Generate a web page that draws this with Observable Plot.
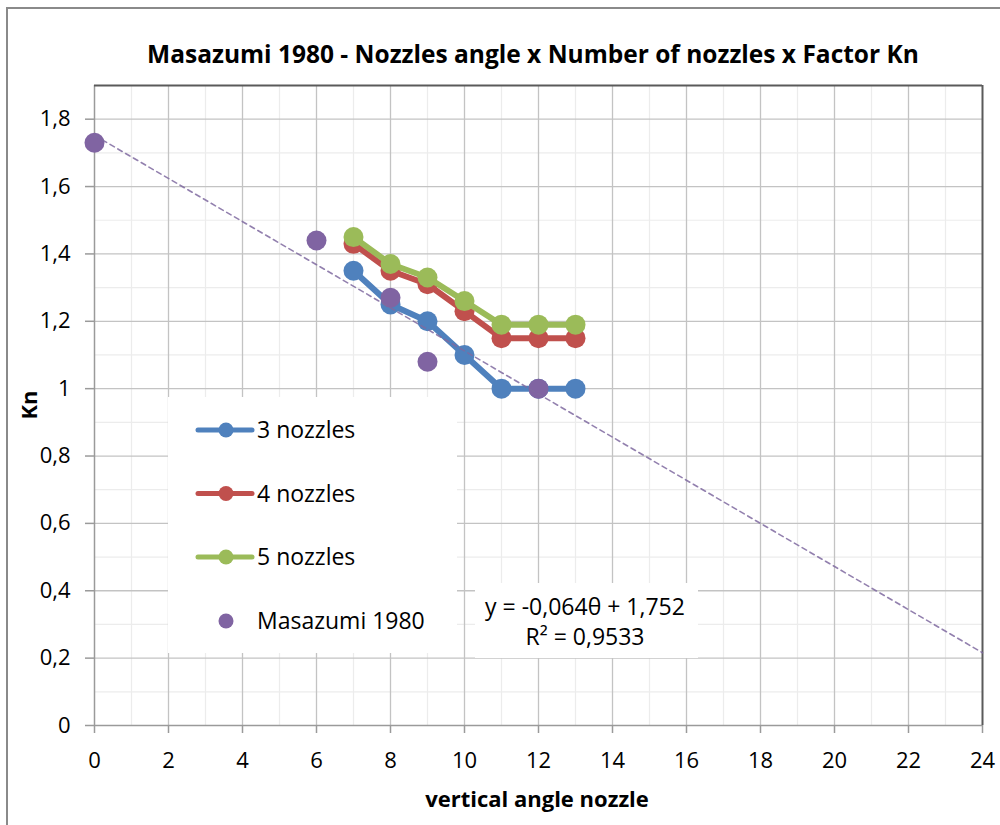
<!DOCTYPE html>
<html>
<head>
<meta charset="utf-8">
<script src="https://cdn.jsdelivr.net/npm/d3@7"></script>
<script src="https://cdn.jsdelivr.net/npm/@observablehq/plot@0.6"></script>
<style>
  html, body { margin: 0; padding: 0; background: #fff; }
  #wrap { position: relative; width: 1000px; height: 825px; overflow: hidden; font-family: "Open Sans", sans-serif; }
  #frame { position: absolute; left: 6px; top: 7px; width: 1010px; height: 830px; border: 2px solid #8a8a8a; box-sizing: border-box; pointer-events: none; }
  .box { position: absolute; background: #fff; }
  svg.overlay { position: absolute; left: 0; top: 0; }
</style>
</head>
<body>
<div id="wrap"></div>
<script>
// ---- data ----
const angles = [7, 8, 9, 10, 11, 12, 13];
const kn3 = [1.35, 1.25, 1.20, 1.10, 1.00, 1.00, 1.00];
const kn4 = [1.43, 1.35, 1.31, 1.23, 1.15, 1.15, 1.15];
const kn5 = [1.45, 1.37, 1.33, 1.26, 1.19, 1.19, 1.19];
const masaAngle = [0, 6, 8, 9, 12];
const masaKn = [1.73, 1.44, 1.27, 1.08, 1.00];
const trendSlope = -0.064;
const trendIntercept = 1.752;
const trendRange = [0, 24];
const seriesNames = ["3 nozzles", "4 nozzles", "5 nozzles", "Masazumi 1980"];
const seriesColors = ["#4F81BD", "#C0504D", "#9BBB59", "#8064A2"];
const xTicks = [0, 2, 4, 6, 8, 10, 12, 14, 16, 18, 20, 22, 24];
const xMinor = [1, 3, 5, 7, 9, 11, 13, 15, 17, 19, 21, 23];
const yTicks = [0, 0.2, 0.4, 0.6, 0.8, 1.0, 1.2, 1.4, 1.6, 1.8];
const yMinor = [0.1, 0.3, 0.5, 0.7, 0.9, 1.1, 1.3, 1.5, 1.7];
const xDomain = [0, 24];
const yDomain = [0, 1.9];
const titleText = "Masazumi 1980 - Nozzles angle x Number of nozzles x Factor Kn";
const xLabel = "vertical angle nozzle";
const yLabel = "Kn";
const eqLine1 = "y = -0,064θ + 1,752";
const eqLine2 = "R² = 0,9533";

const toRows = (xs, ys) => xs.map((x, i) => ({x, y: ys[i]}));
const s3 = toRows(angles, kn3);
const s4 = toRows(angles, kn4);
const s5 = toRows(angles, kn5);
const sm = toRows(masaAngle, masaKn);
const trend = trendRange.map(x => ({x, y: trendSlope * x + trendIntercept}));
const fmt = d => String(+d.toFixed(1)).replace(".", ",");

const chart = Plot.plot({
  width: 1000,
  height: 825,
  marginLeft: 94,
  marginRight: 18,
  marginTop: 85,
  marginBottom: 100,
  style: {fontFamily: "Open Sans, sans-serif", fontSize: "22px", background: "transparent", color: "#000"},
  x: {domain: xDomain, label: null},
  y: {domain: yDomain, label: null},
  marks: [
    Plot.ruleX(xMinor, {stroke: "#ececec", strokeWidth: 1.2}),
    Plot.ruleY(yMinor, {stroke: "#ececec", strokeWidth: 1.2}),
    Plot.ruleX(xTicks.filter(d => d > 0 && d < 24), {stroke: "#c3c3c3", strokeWidth: 1.3}),
    Plot.ruleY(yTicks.filter(d => d > 0), {stroke: "#c3c3c3", strokeWidth: 1.3}),
    Plot.ruleX([xDomain[0]], {stroke: "#9a9a9a", strokeWidth: 1.5}),
    Plot.ruleY([yDomain[0]], {stroke: "#9a9a9a", strokeWidth: 1.5}),
    Plot.ruleX([xDomain[1]], {stroke: "#5a5a5a", strokeWidth: 2}),
    Plot.ruleY([yDomain[1]], {stroke: "#5a5a5a", strokeWidth: 2}),
    Plot.axisX({ticks: xTicks, tickSize: 8, tickPadding: 19, tickFormat: d => String(d), stroke: "#9a9a9a", fill: "#000", strokeWidth: 1.5, label: null}),
    Plot.axisY({ticks: yTicks, tickSize: 9, tickPadding: 15, tickFormat: fmt, stroke: "#9a9a9a", fill: "#000", strokeWidth: 1.5, label: null}),
    Plot.line(s3, {x: "x", y: "y", stroke: seriesColors[0], strokeWidth: 6}),
    Plot.dot(s3, {x: "x", y: "y", r: 10, fill: seriesColors[0]}),
    Plot.line(s4, {x: "x", y: "y", stroke: seriesColors[1], strokeWidth: 6}),
    Plot.dot(s4, {x: "x", y: "y", r: 10, fill: seriesColors[1]}),
    Plot.line(s5, {x: "x", y: "y", stroke: seriesColors[2], strokeWidth: 6}),
    Plot.dot(s5, {x: "x", y: "y", r: 10, fill: seriesColors[2]}),
    Plot.dot(sm, {x: "x", y: "y", r: 10, fill: seriesColors[3]}),
    Plot.line(trend, {x: "x", y: "y", stroke: "#7f6aa0", strokeWidth: 1.6, strokeDasharray: "5,4", strokeOpacity: 0.85})
  ]
});

const wrap = document.getElementById("wrap");
wrap.appendChild(chart);

// legend box and equation box
const legendBox = document.createElement("div");
legendBox.className = "box";
Object.assign(legendBox.style, {left: "168px", top: "397px", width: "289px", height: "256px"});
wrap.appendChild(legendBox);
const eqBox = document.createElement("div");
eqBox.className = "box";
Object.assign(eqBox.style, {left: "475px", top: "583px", width: "223px", height: "75px"});
wrap.appendChild(eqBox);

// text overlay
const NS = "http://www.w3.org/2000/svg";
const ov = document.createElementNS(NS, "svg");
ov.setAttribute("class", "overlay");
ov.setAttribute("width", 1000);
ov.setAttribute("height", 825);
ov.setAttribute("font-family", "Open Sans, sans-serif");
function txt(str, x, y, opts = {}) {
  const t = document.createElementNS(NS, "text");
  t.textContent = str;
  t.setAttribute("x", x);
  t.setAttribute("y", y);
  t.setAttribute("font-size", opts.size || 21);
  if (opts.bold) t.setAttribute("font-weight", "bold");
  t.setAttribute("text-anchor", opts.anchor || "start");
  t.setAttribute("fill", "#000");
  if (opts.transform) t.setAttribute("transform", opts.transform);
  ov.appendChild(t);
  return t;
}
function el(name, attrs) {
  const e = document.createElementNS(NS, name);
  for (const k in attrs) e.setAttribute(k, attrs[k]);
  ov.appendChild(e);
  return e;
}
txt(titleText, 533, 63, {size: 24.5, bold: true, anchor: "middle"});
txt(xLabel, 537, 807, {size: 22, bold: true, anchor: "middle"});
txt(yLabel, 0, 0, {size: 22, bold: true, anchor: "middle", transform: "translate(37,405) rotate(-90)"});
txt(eqLine1, 585, 615, {size: 23, anchor: "middle"});
txt(eqLine2, 585, 645, {size: 23, anchor: "middle"});

const rowY = [430, 493.5, 557, 621];
seriesNames.forEach((name, i) => {
  if (i < 3) el("line", {x1: 198, x2: 252, y1: rowY[i], y2: rowY[i], stroke: seriesColors[i], "stroke-width": 5, "stroke-linecap": "round"});
  el("circle", {cx: 226, cy: rowY[i], r: 7.5, fill: seriesColors[i]});
  txt(name, 257, rowY[i] + 8, {size: 23});
});
wrap.appendChild(ov);

const frame = document.createElement("div");
frame.id = "frame";
wrap.appendChild(frame);
</script>
</body>
</html>
